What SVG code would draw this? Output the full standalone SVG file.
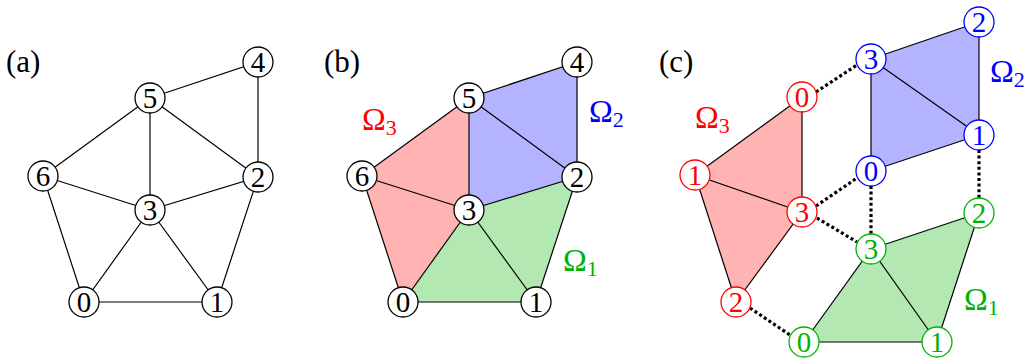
<svg xmlns="http://www.w3.org/2000/svg" width="1028" height="358" viewBox="0 0 1028 358" font-family="'Liberation Serif', 'DejaVu Serif', serif">
<style>
.e{stroke:#000;stroke-width:1.2;fill:none}
.d{stroke:#000;stroke-width:3.2;stroke-dasharray:3 2.6;fill:none}
.n circle{fill:#fff;stroke:#000;stroke-width:1.3}
.r circle{stroke:#ff0000}
.b circle{stroke:#0000ff}
.g circle{stroke:#00b300}
.n text{font-size:29px;text-anchor:middle}
.r text{fill:#ff0000}
.b text{fill:#0000ff}
.g text{fill:#00b300}
.lbl{font-size:31px}
.om{font-size:32px}
.om tspan{font-size:22px}
.fr{fill:#ffb3b3}
.fb{fill:#b3b3ff}
.fg{fill:#b3e8b3}
</style>
<!-- panel labels -->
<text class="lbl" x="6" y="72">(a)</text>
<text class="lbl" x="324" y="72">(b)</text>
<text class="lbl" x="659" y="72">(c)</text>

<!-- Panel (a) -->
<g id="edges-a">
<line class="e" x1="150" y1="98" x2="258" y2="62"/>
<line class="e" x1="258" y1="62" x2="258" y2="177"/>
<line class="e" x1="150" y1="98" x2="43" y2="176"/>
<line class="e" x1="150" y1="98" x2="150" y2="210"/>
<line class="e" x1="150" y1="98" x2="258" y2="177"/>
<line class="e" x1="43" y1="176" x2="150" y2="210"/>
<line class="e" x1="43" y1="176" x2="84" y2="302"/>
<line class="e" x1="150" y1="210" x2="258" y2="177"/>
<line class="e" x1="150" y1="210" x2="84" y2="302"/>
<line class="e" x1="150" y1="210" x2="217" y2="302"/>
<line class="e" x1="258" y1="177" x2="217" y2="302"/>
<line class="e" x1="84" y1="302" x2="217" y2="302"/>
</g>
<g id="a0" class="n"><circle cx="84" cy="302" r="15"/><text x="84" y="311.5">0</text></g>
<g id="a1" class="n"><circle cx="217" cy="302" r="15"/><text x="217" y="311.5">1</text></g>
<g id="a2" class="n"><circle cx="258" cy="177" r="15"/><text x="258" y="186.5">2</text></g>
<g id="a3" class="n"><circle cx="150" cy="210" r="15"/><text x="150" y="219.5">3</text></g>
<g id="a4" class="n"><circle cx="258" cy="62" r="15"/><text x="258" y="71.5">4</text></g>
<g id="a5" class="n"><circle cx="150" cy="98" r="15"/><text x="150" y="107.5">5</text></g>
<g id="a6" class="n"><circle cx="43" cy="176" r="15"/><text x="43" y="185.5">6</text></g>

<!-- Panel (b) -->
<g id="regions-b">
<polygon class="fr" points="469,98 362,176 403,302 469,210"/>
<polygon class="fb" points="469,98 577,62 577,177 469,210"/>
<polygon class="fg" points="469,210 577,177 536,302 403,302"/>
</g>
<g id="edges-b">
<line class="e" x1="469" y1="98" x2="577" y2="62"/>
<line class="e" x1="577" y1="62" x2="577" y2="177"/>
<line class="e" x1="469" y1="98" x2="362" y2="176"/>
<line class="e" x1="469" y1="98" x2="469" y2="210"/>
<line class="e" x1="469" y1="98" x2="577" y2="177"/>
<line class="e" x1="362" y1="176" x2="469" y2="210"/>
<line class="e" x1="362" y1="176" x2="403" y2="302"/>
<line class="e" x1="469" y1="210" x2="577" y2="177"/>
<line class="e" x1="469" y1="210" x2="403" y2="302"/>
<line class="e" x1="469" y1="210" x2="536" y2="302"/>
<line class="e" x1="577" y1="177" x2="536" y2="302"/>
<line class="e" x1="403" y1="302" x2="536" y2="302"/>
</g>
<g id="b0" class="n"><circle cx="403" cy="302" r="15"/><text x="403" y="311.5">0</text></g>
<g id="b1" class="n"><circle cx="536" cy="302" r="15"/><text x="536" y="311.5">1</text></g>
<g id="b2" class="n"><circle cx="577" cy="177" r="15"/><text x="577" y="186.5">2</text></g>
<g id="b3" class="n"><circle cx="469" cy="210" r="15"/><text x="469" y="219.5">3</text></g>
<g id="b4" class="n"><circle cx="577" cy="62" r="15"/><text x="577" y="71.5">4</text></g>
<g id="b5" class="n"><circle cx="469" cy="98" r="15"/><text x="469" y="107.5">5</text></g>
<g id="b6" class="n"><circle cx="362" cy="176" r="15"/><text x="362" y="185.5">6</text></g>
<text class="om" x="362" y="130" fill="#ff0000">Ω<tspan dy="5">3</tspan></text>
<text class="om" x="589" y="122" fill="#0000ff">Ω<tspan dy="5">2</tspan></text>
<text class="om" x="563" y="271" fill="#00b300">Ω<tspan dy="5">1</tspan></text>

<!-- Panel (c) -->
<g id="regions-c">
<polygon class="fr" points="802,97 695,175 736,302 802,212"/>
<polygon class="fb" points="871,59 979,22 979,135 871,171"/>
<polygon class="fg" points="871,249 979,213 937,342 804,342"/>
</g>
<g id="edges-c">
<line class="e" x1="802" y1="97" x2="695" y2="175"/>
<line class="e" x1="695" y1="175" x2="736" y2="302"/>
<line class="e" x1="736" y1="302" x2="802" y2="212"/>
<line class="e" x1="802" y1="212" x2="802" y2="97"/>
<line class="e" x1="695" y1="175" x2="802" y2="212"/>
<line class="e" x1="871" y1="59" x2="979" y2="22"/>
<line class="e" x1="979" y1="22" x2="979" y2="135"/>
<line class="e" x1="979" y1="135" x2="871" y2="171"/>
<line class="e" x1="871" y1="171" x2="871" y2="59"/>
<line class="e" x1="871" y1="59" x2="979" y2="135"/>
<line class="e" x1="871" y1="249" x2="979" y2="213"/>
<line class="e" x1="979" y1="213" x2="937" y2="342"/>
<line class="e" x1="937" y1="342" x2="804" y2="342"/>
<line class="e" x1="804" y1="342" x2="871" y2="249"/>
<line class="e" x1="871" y1="249" x2="937" y2="342"/>
</g>
<g id="links-c">
<line class="d" x1="816" y1="92" x2="857" y2="65"/>
<line class="d" x1="816" y1="206" x2="857" y2="178"/>
<line class="d" x1="871" y1="186" x2="871" y2="234"/>
<line class="d" x1="817" y1="218" x2="857" y2="242"/>
<line class="d" x1="979" y1="150" x2="979" y2="198"/>
<line class="d" x1="750" y1="308" x2="790" y2="335"/>
</g>
<g id="r0" class="n r"><circle cx="802" cy="97" r="15"/><text x="802" y="106.5">0</text></g>
<g id="r1" class="n r"><circle cx="695" cy="175" r="15"/><text x="695" y="184.5">1</text></g>
<g id="r2" class="n r"><circle cx="736" cy="302" r="15"/><text x="736" y="311.5">2</text></g>
<g id="r3" class="n r"><circle cx="802" cy="212" r="15"/><text x="802" y="221.5">3</text></g>
<g id="u0" class="n b"><circle cx="871" cy="171" r="15"/><text x="871" y="180.5">0</text></g>
<g id="u1" class="n b"><circle cx="979" cy="135" r="15"/><text x="979" y="144.5">1</text></g>
<g id="u2" class="n b"><circle cx="979" cy="22" r="15"/><text x="979" y="31.5">2</text></g>
<g id="u3" class="n b"><circle cx="871" cy="59" r="15"/><text x="871" y="68.5">3</text></g>
<g id="v0" class="n g"><circle cx="804" cy="342" r="15"/><text x="804" y="351.5">0</text></g>
<g id="v1" class="n g"><circle cx="937" cy="342" r="15"/><text x="937" y="351.5">1</text></g>
<g id="v2" class="n g"><circle cx="979" cy="213" r="15"/><text x="979" y="222.5">2</text></g>
<g id="v3" class="n g"><circle cx="871" cy="249" r="15"/><text x="871" y="258.5">3</text></g>
<text class="om" x="695" y="128" fill="#ff0000">Ω<tspan dy="5">3</tspan></text>
<text class="om" x="990" y="82" fill="#0000ff">Ω<tspan dy="5">2</tspan></text>
<text class="om" x="964" y="310" fill="#00b300">Ω<tspan dy="5">1</tspan></text>
</svg>
